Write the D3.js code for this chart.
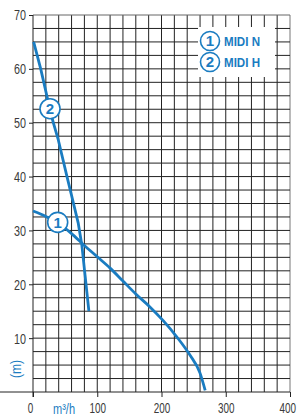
<!DOCTYPE html>
<html><head><meta charset="utf-8">
<script src="https://cdn.jsdelivr.net/npm/d3@7"></script>
<style>
html,body{margin:0;padding:0;background:#fff;}
svg{display:block;}
</style></head>
<body>
<script>
// Data
const xTicks = [0, 100, 200, 300, 400];
const yTicks = [10, 20, 30, 40, 50, 60, 70];
const curveN_Q = [0, 20, 40, 60, 80, 100, 120, 140, 160, 182, 203, 224, 244, 260, 268];
const curveN_H = [33.6, 32.6, 31.3, 29.4, 27.2, 25.1, 23.0, 20.6, 18.2, 15.8, 13.2, 10.2, 6.9, 3.5, 0.3];
const curveH_Q = [1, 12, 26.5, 31.6, 39.4, 52.9, 60, 70.5, 76, 81, 87];
const curveH_H = [65, 60, 52.4, 50, 46.8, 40, 36.5, 31.3, 27.3, 21.7, 15];
const legendLabels = ["MIDI N", "MIDI H"];
const legendNums = ["1", "2"];
const markerQ = [38.4, 26.5];
const markerH = [31.5, 52.6];

(function () {
const W = 302, H = 419;
const mL = 33, mR = 290, mT = 15, mB = 392;
const blue = "#1a7cc1";
const font = "'Liberation Sans', Arial, sans-serif";

const svg = d3.select("body").append("svg").attr("width", W).attr("height", H);
const x = d3.scaleLinear().domain([0, 400]).range([mL, mR]);
const y = d3.scaleLinear().domain([0, 70]).range([mB, mT]);

// grid
const g = svg.append("g");
g.selectAll("line.v").data(d3.range(20, 401, 20)).enter().append("line")
  .attr("x1", d => x(d)).attr("x2", d => x(d)).attr("y1", mT).attr("y2", mB)
  .attr("stroke", d => d === 400 ? "#777" : "#222").attr("stroke-width", 1);
g.selectAll("line.h").data(d3.range(2.5, 70.01, 2.5)).enter().append("line")
  .attr("x1", mL).attr("x2", mR).attr("y1", d => y(d)).attr("y2", d => y(d))
  .attr("stroke", d => d === 70 ? "#666" : "#222").attr("stroke-width", 1);

// axes
const yAxis = d3.axisLeft(y).tickValues(yTicks).tickSize(4).tickPadding(3);
const ya = svg.append("g").attr("transform", `translate(${mL},0)`).call(yAxis);
ya.select(".domain").remove();
ya.append("line").attr("x1", 0).attr("x2", 0).attr("y1", mT).attr("y2", mB + 5).attr("stroke", "#222");
ya.selectAll(".tick line").attr("stroke", "#222");
ya.selectAll("text").attr("font-family", font).attr("font-size", 15.5).attr("fill", "#3a3a3a")
  .attr("textLength", d => String(d).length * 6).attr("lengthAdjust", "spacingAndGlyphs");

const xAxis = d3.axisBottom(x).tickValues(xTicks).tickSize(5).tickPadding(5);
const xa = svg.append("g").attr("transform", `translate(0,${mB})`).call(xAxis);
xa.select(".domain").remove();
xa.append("line").attr("x1", 0).attr("x2", mR).attr("y1", 0).attr("y2", 0).attr("stroke", "#222");
xa.selectAll(".tick line").attr("stroke", "#222");
xa.selectAll("text").attr("font-family", font).attr("font-size", 15).attr("fill", "#3a3a3a")
  .attr("transform", "scale(0.66,1)")
  .attr("dx", d => d === 0 ? -4.5 : (d === 400 ? -4 : 0));

// axis titles
svg.append("text").attr("x", 53).attr("y", 414).attr("font-family", font).attr("font-size", 15)
  .attr("fill", blue).attr("textLength", 22).attr("lengthAdjust", "spacingAndGlyphs").text("m³/h");
svg.append("text").attr("transform", "translate(21,369) rotate(-90)").attr("text-anchor", "middle")
  .attr("font-family", font).attr("font-size", 14).attr("fill", blue)
  .attr("textLength", 18).attr("lengthAdjust", "spacingAndGlyphs").text("(m)");

// curves
const line = d3.line().x(d => x(d[0])).y(d => y(d[1])).curve(d3.curveMonotoneX);
svg.append("path").datum(d3.zip(curveN_Q, curveN_H)).attr("d", line)
  .attr("fill", "none").attr("stroke", blue).attr("stroke-width", 2.8);
const line2 = d3.line().x(d => x(d[0])).y(d => y(d[1])).curve(d3.curveLinear);
svg.append("path").datum(d3.zip(curveH_Q, curveH_H)).attr("d", line2)
  .attr("fill", "none").attr("stroke", blue).attr("stroke-width", 2.8).attr("stroke-linejoin", "round");

// markers on curves
function badge(cx, cy, t, r, fs) {
  svg.append("circle").attr("cx", cx).attr("cy", cy).attr("r", r)
    .attr("fill", "#fff").attr("stroke", blue).attr("stroke-width", 1.6);
  svg.append("text").attr("x", cx).attr("y", cy).attr("dy", "0.36em").attr("text-anchor", "middle")
    .attr("font-family", font).attr("font-weight", "bold")
    .attr("font-size", fs).attr("fill", blue).text(t);
}
legendNums.forEach((n, i) => badge(x(markerQ[i]), y(markerH[i]), n, 10, 15));

// legend
svg.append("rect").attr("x", 198).attr("y", 27).attr("width", 77).attr("height", 50).attr("fill", "#fff");
legendLabels.forEach((lab, i) => {
  const cy = 41 + i * 21;
  badge(210, cy, legendNums[i], 9.5, 15);
  svg.append("text").attr("x", 224).attr("y", cy + 4.5).attr("font-family", font)
    .attr("font-weight", "bold").attr("font-size", 12).attr("fill", blue)
    .attr("textLength", 36).attr("lengthAdjust", "spacingAndGlyphs").text(lab);
});
})();
</script>
</body></html>
